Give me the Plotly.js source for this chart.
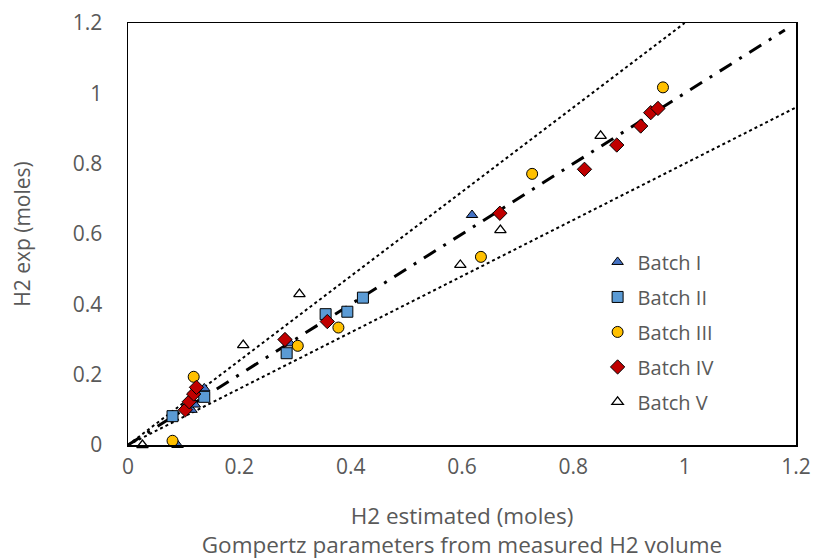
<!DOCTYPE html>
<html>
<head>
<meta charset="utf-8">
<script src="https://cdn.plot.ly/plotly-3.0.1.min.js"></script>
<style>html,body{margin:0;padding:0;background:#fff;}#chart{width:813px;height:560px;}</style>
</head>
<body>
<div id="chart"></div>
<script>
// Batch data: estimated (x) vs experimental (y), moles
const batch1X = [0.089, 0.114, 0.120, 0.137, 0.291, 0.618];
const batch1Y = [0.000, 0.100, 0.115, 0.161, 0.289, 0.654];
const batch2X = [0.080, 0.137, 0.285, 0.355, 0.394, 0.422];
const batch2Y = [0.082, 0.137, 0.261, 0.372, 0.379, 0.419];
const batch3X = [0.080, 0.118, 0.305, 0.378, 0.634, 0.726, 0.961];
const batch3Y = [0.012, 0.194, 0.282, 0.334, 0.535, 0.771, 1.017];
const batch4X = [0.103, 0.110, 0.118, 0.123, 0.282, 0.358, 0.668, 0.820, 0.878, 0.921, 0.939, 0.952];
const batch4Y = [0.100, 0.123, 0.145, 0.164, 0.300, 0.351, 0.659, 0.784, 0.853, 0.907, 0.945, 0.957];
const batch5X = [0.026, 0.207, 0.308, 0.597, 0.669, 0.849];
const batch5Y = [0.000, 0.284, 0.429, 0.512, 0.611, 0.879];
// Reference lines: 1:1 line and +/-20% bounds
const lineIdX = [0, 1.18];
const lineIdY = [0, 1.18];
const lineUpX = [0, 1.0];
const lineUpY = [0, 1.2];
const lineLoX = [0, 1.2];
const lineLoY = [0, 0.96];
const names = ["Batch I", "Batch II", "Batch III", "Batch IV", "Batch V"];
const tickVals = [0, 0.2, 0.4, 0.6, 0.8, 1, 1.2];
const tickText = ["0", "0.2", "0.4", "0.6", "0.8", "1", "1.2"];

const gray = "#595959";
const fnt = "Open Sans, Noto Sans, sans-serif";

const traces = [
  {x: lineUpX, y: lineUpY, mode: "lines", line: {color: "#000", width: 2, dash: "dot"}, showlegend: false, hoverinfo: "skip"},
  {x: lineLoX, y: lineLoY, mode: "lines", line: {color: "#000", width: 2, dash: "dot"}, showlegend: false, hoverinfo: "skip"},
  {x: lineIdX, y: lineIdY, mode: "lines", line: {color: "#000", width: 3, dash: "14px,9px,3px,9px"}, showlegend: false, hoverinfo: "skip"},
  {x: batch1X, y: batch1Y, name: names[0], mode: "markers", legendgroup: "a", cliponaxis: false,
   marker: {symbol: "triangle-up", size: 10, color: "#4472C4", line: {color: "#000", width: 1}}},
  {x: batch2X, y: batch2Y, name: names[1], mode: "markers", legendgroup: "b", cliponaxis: false,
   marker: {symbol: "square", size: 11, color: "#5B9BD5", line: {color: "#000", width: 1}}},
  {x: batch3X, y: batch3Y, name: names[2], mode: "markers", legendgroup: "c", cliponaxis: false,
   marker: {symbol: "circle", size: 11, color: "#FFC000", line: {color: "#000", width: 1}}},
  {x: batch4X, y: batch4Y, name: names[3], mode: "markers", legendgroup: "d", cliponaxis: false,
   marker: {symbol: "diamond", size: 11, color: "#C00000", line: {color: "#000", width: 1}}},
  {x: batch5X, y: batch5Y, name: names[4], mode: "markers", legendgroup: "e", cliponaxis: false,
   marker: {symbol: "triangle-up", size: 10, color: "#FFFFFF", line: {color: "#000", width: 1.3}}}
];

const layout = {
  width: 813, height: 560,
  margin: {l: 128, r: 17, t: 23, b: 115},
  paper_bgcolor: "#fff", plot_bgcolor: "#fff",
  font: {family: fnt, color: gray, size: 21},
  showlegend: true,
  legend: {x: 0.703, y: 0.48, xanchor: "left", yanchor: "top", bgcolor: "rgba(0,0,0,0)",
           font: {family: fnt, size: 20, color: gray}, traceorder: "grouped", tracegroupgap: 6,
           itemwidth: 30},
  xaxis: {range: [0, 1.2], tickvals: tickVals, ticktext: tickText, showgrid: false, zeroline: false,
          showline: true, linecolor: "#000", linewidth: 1.5, mirror: true, ticks: "",
          ticklabelstandoff: 2,
          tickfont: {family: fnt, size: 21, color: gray},
          title: {text: "H2 estimated (moles)<br>Gompertz parameters from measured H2 volume",
                  font: {family: fnt, size: 22.5, color: gray}, standoff: 36}},
  yaxis: {range: [0, 1.2], tickvals: tickVals, ticktext: tickText, showgrid: false, zeroline: false,
          showline: true, linecolor: "#000", linewidth: 1.5, mirror: true, ticks: "",
          ticklabelstandoff: 20,
          tickfont: {family: fnt, size: 21, color: gray},
          title: {text: "H2 exp (moles)", font: {family: fnt, size: 21, color: gray}, standoff: 36}}
};

Plotly.newPlot("chart", traces, layout, {displayModeBar: false, staticPlot: true});
</script>
</body>
</html>
